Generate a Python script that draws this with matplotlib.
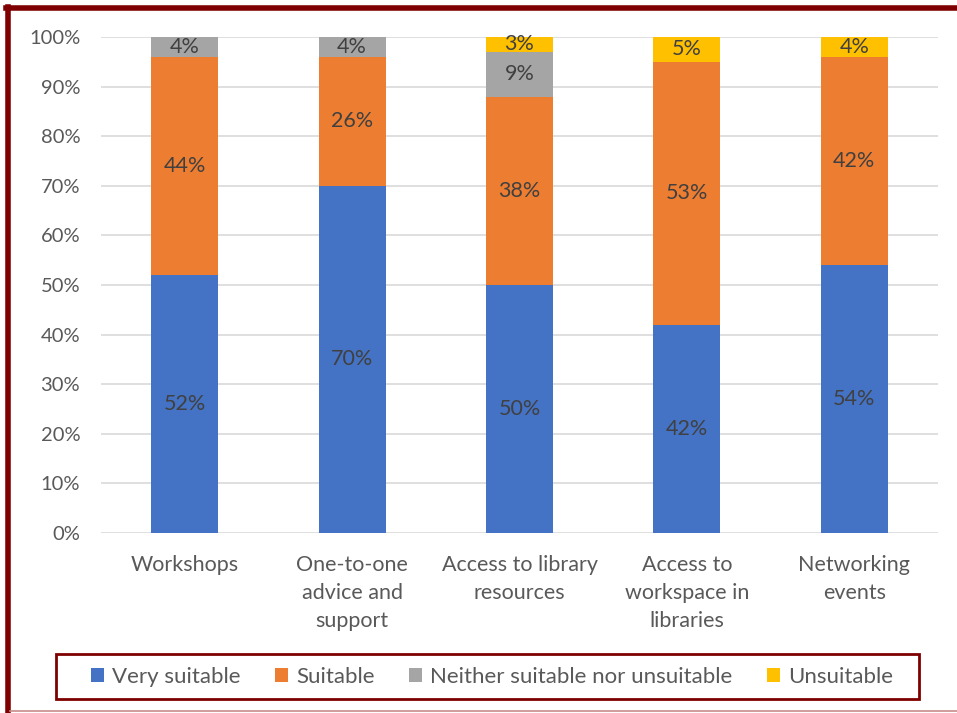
import matplotlib
matplotlib.use("Agg")
import matplotlib.pyplot as plt
from matplotlib.lines import Line2D
from matplotlib.patches import Rectangle
from matplotlib.ticker import PercentFormatter
import numpy as np

plt.rcParams["font.family"] = ["Lato", "DejaVu Sans"]

categories = [
    "Workshops",
    "One-to-one\nadvice and\nsupport",
    "Access to library\nresources",
    "Access to\nworkspace in\nlibraries",
    "Networking\nevents",
]
series_names = ["Very suitable", "Suitable", "Neither suitable nor unsuitable", "Unsuitable"]
very_suitable = [52, 70, 50, 42, 54]
suitable = [44, 26, 38, 53, 42]
neither = [4, 4, 9, 0, 0]
unsuitable = [0, 0, 3, 5, 4]
colors = ["#4472C4", "#ED7D31", "#A5A5A5", "#FFC000"]

text_grey = "#595959"
label_grey = "#404040"
frame_red = "#7F0000"

W, H = 957, 713
fig = plt.figure(figsize=(W / 100, H / 100), dpi=100)
ax = fig.add_axes([101 / W, 1 - 533 / H, 837 / W, 496 / H])

x = np.arange(len(categories))
bottom = np.zeros(len(categories))
for name, vals, col in zip(series_names, [very_suitable, suitable, neither, unsuitable], colors):
    vals = np.array(vals, dtype=float)
    ax.bar(x, vals, 0.4, bottom=bottom, color=col, label=name, zorder=3)
    for xi, b, v in zip(x, bottom, vals):
        if v > 0:
            ax.text(xi, b + v / 2, f"{v:.0f}%", ha="center", va="center",
                    fontsize=15.5, color=label_grey, zorder=4)
    bottom += vals

ax.set_xlim(-0.5, len(categories) - 0.5)
ax.set_ylim(0, 100)
ax.set_yticks(np.arange(0, 101, 10))
ax.yaxis.set_major_formatter(PercentFormatter(decimals=0))
ax.set_xticks(x)
ax.set_xticklabels(categories, fontsize=15.5, color=text_grey, linespacing=1.5)
ax.tick_params(axis="y", labelsize=14.5, colors=text_grey, length=0, pad=15)
ax.tick_params(axis="x", length=0, pad=16)
ax.grid(axis="y", color="#D9D9D9", linewidth=1.2, zorder=0)
for s in ax.spines.values():
    s.set_visible(False)

leg = fig.legend(loc="center", bbox_to_anchor=(492 / W, 1 - 677 / H), ncol=4,
                 frameon=False, fontsize=16, handlelength=0.6, handleheight=0.6,
                 handletextpad=0.35, columnspacing=1.55)
for t in leg.get_texts():
    t.set_color(text_grey)

# legend box
fig.add_artist(Rectangle((56 / W, 1 - 699 / H), 863 / W, 45 / H, transform=fig.transFigure,
                         fill=False, edgecolor=frame_red, linewidth=2))

# outer frame: left and top dark red, thin pink line along the bottom
fig.add_artist(Line2D([8 / W, 8 / W], [1 - 7 / H, 1 - 711 / H],
                      transform=fig.transFigure, color=frame_red, linewidth=4))
fig.add_artist(Line2D([6 / W, 1], [1 - 8 / H, 1 - 8 / H],
                      transform=fig.transFigure, color=frame_red, linewidth=4))
fig.add_artist(Line2D([10 / W, 1], [1 - 711 / H, 1 - 711 / H],
                      transform=fig.transFigure, color="#C98A8A", linewidth=1.2))

fig.savefig("out.png", dpi=100)
